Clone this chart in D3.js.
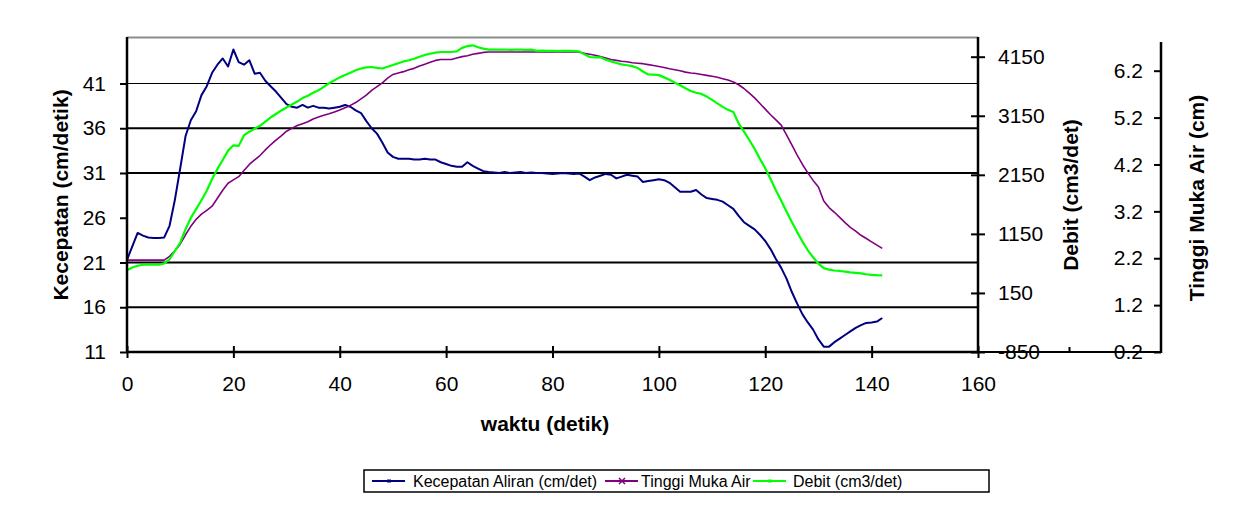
<!DOCTYPE html>
<html>
<head>
<meta charset="utf-8">
<script src="https://cdn.jsdelivr.net/npm/d3@7"></script>
<style>
    body { margin: 0; background: #fff; }
    svg text { font-family: "Liberation Sans", Arial, sans-serif; fill: #000; }
</style>
</head>
<body>
<div id="chart"></div>
<script>
"use strict";

// waktu (detik)
const waktu = [
    0,1,2,3,4,5,6,7,8,9,10,11,12,13,14,15,16,17,18,19,
    20,21,22,23,24,25,26,27,28,29,30,31,32,33,34,35,36,37,38,39,
    40,41,42,43,44,45,46,47,48,49,50,51,52,53,54,55,56,57,58,59,
    60,61,62,63,64,65,66,67,68,69,70,71,72,73,74,75,76,77,78,79,
    80,81,82,83,84,85,86,87,88,89,90,91,92,93,94,95,96,97,98,99,
    100,101,102,103,104,105,106,107,108,109,110,111,112,113,114,115,116,117,118,119,
    120,121,122,123,124,125,126,127,128,129,130,131,132,133,134,135,136,137,138,139,
    140,141,142
];

// Kecepatan Aliran (cm/det) - left axis
const kecepatan = [
    21.3,22.8,24.3,24.0,23.8,23.75,23.75,23.8,25.1,28.0,
    31.5,35.1,36.9,37.9,39.7,40.7,42.2,43.1,43.8,42.9,
    44.8,43.4,43.1,43.6,42.1,42.2,41.3,40.7,40.1,39.4,
    38.7,38.4,38.3,38.6,38.3,38.5,38.3,38.3,38.2,38.3,
    38.4,38.6,38.4,38.0,37.7,36.8,36.0,35.4,34.4,33.3,
    32.8,32.6,32.6,32.6,32.5,32.5,32.6,32.5,32.5,32.2,
    32.0,31.8,31.7,31.7,32.2,31.8,31.5,31.2,31.1,31.05,
    31.0,31.1,31.0,31.05,31.1,31.0,31.05,31.0,31.0,30.95,
    30.9,30.95,31.0,30.95,30.9,30.95,30.6,30.2,30.5,30.7,
    30.9,30.8,30.4,30.6,30.8,30.7,30.6,30.0,30.1,30.2,
    30.3,30.2,29.9,29.4,28.9,28.9,28.9,29.1,28.6,28.2,
    28.1,28.0,27.8,27.4,27.0,26.2,25.5,25.1,24.7,24.1,
    23.4,22.5,21.4,20.4,19.2,17.7,16.4,15.2,14.3,13.5,
    12.4,11.6,11.6,12.1,12.5,12.9,13.3,13.7,14.0,14.25,
    14.3,14.4,14.8
];

// Tinggi Muka Air (cm) - far right axis
const tinggi = [
    2.16,2.16,2.16,2.16,2.16,2.16,2.16,2.16,2.24,2.36,
    2.50,2.70,2.88,3.03,3.14,3.22,3.31,3.48,3.65,3.80,
    3.87,3.94,4.07,4.20,4.30,4.39,4.51,4.62,4.72,4.81,
    4.91,4.97,5.03,5.07,5.11,5.17,5.21,5.25,5.28,5.32,
    5.36,5.41,5.46,5.52,5.60,5.68,5.78,5.86,5.94,6.04,
    6.12,6.15,6.18,6.22,6.25,6.30,6.34,6.38,6.42,6.44,
    6.44,6.44,6.47,6.50,6.52,6.55,6.57,6.59,6.60,6.60,
    6.60,6.60,6.60,6.60,6.60,6.60,6.60,6.60,6.60,6.60,
    6.60,6.60,6.60,6.60,6.60,6.60,6.57,6.55,6.53,6.50,
    6.47,6.44,6.42,6.40,6.39,6.37,6.36,6.35,6.33,6.31,
    6.29,6.27,6.24,6.22,6.20,6.17,6.15,6.14,6.12,6.10,
    6.08,6.06,6.03,6.00,5.96,5.90,5.82,5.72,5.62,5.50,
    5.38,5.26,5.15,5.04,4.83,4.62,4.40,4.20,4.02,3.86,
    3.72,3.42,3.28,3.18,3.07,2.96,2.86,2.78,2.69,2.62,
    2.55,2.48,2.41
];

// Debit (cm3/det) - inner right axis
const debit = [
    533,580,610,628,628,628,628,650,720,860,
    1000,1230,1420,1570,1720,1880,2080,2250,2400,2560,
    2650,2640,2820,2880,2930,2980,3050,3120,3180,3240,
    3290,3340,3390,3450,3490,3540,3580,3640,3700,3750,
    3800,3840,3880,3920,3950,3970,3976,3960,3950,3980,
    4010,4040,4070,4090,4115,4150,4180,4200,4220,4230,
    4230,4230,4240,4300,4330,4343,4310,4286,4270,4269,
    4269,4272,4266,4269,4270,4266,4269,4250,4252,4248,
    4250,4246,4250,4248,4246,4240,4190,4145,4140,4140,
    4100,4070,4043,4020,4005,3990,3960,3900,3850,3845,
    3838,3800,3760,3710,3666,3615,3569,3540,3520,3475,
    3420,3360,3300,3250,3213,3020,2880,2740,2590,2420,
    2260,2080,1890,1710,1530,1350,1180,1020,872,755,
    645,570,545,530,522,510,498,490,480,466,
    455,450,449
];

const xTicks = [0, 20, 40, 60, 80, 100, 120, 140, 160];
const kecTicks = [11, 16, 21, 26, 31, 36, 41];
const gridValues = [16, 21, 31, 36, 41];
const debitTicks = [-850, 150, 1150, 2150, 3150, 4150];
const tinggiTicks = [0.2, 1.2, 2.2, 3.2, 4.2, 5.2, 6.2];

const seriesNames = ["Kecepatan Aliran (cm/det)", "Tinggi Muka Air", "Debit (cm3/det)"];

const W = 1243, H = 526;
const plotLeft = 127, plotRight = 978, plotTop = 37, plotBottom = 352;
const tinggiX = 1161;

const svg = d3.select("#chart").append("svg")
    .attr("width", W)
    .attr("height", H);

// scales
const x = d3.scaleLinear().domain([0, 160]).range([plotLeft, plotRight]);
const yKec = d3.scaleLinear().domain([11, 41]).range([plotBottom, 83.5]);
const yDeb = d3.scaleLinear().domain([-850, 4150]).range([plotBottom, 56.7]);
const yTin = d3.scaleLinear().domain([0.2, 6.2]).range([plotBottom, 70.7]);

// top border of the plot area
svg.append("line")
    .attr("x1", plotLeft).attr("x2", plotRight)
    .attr("y1", plotTop + 0.5).attr("y2", plotTop + 0.5)
    .style("stroke", "#8c8c8c").style("stroke-width", 2);

// gridlines
svg.append("g").selectAll("line")
    .data(gridValues)
    .enter().append("line")
    .attr("x1", plotLeft).attr("x2", plotRight)
    .attr("y1", d => yKec(d)).attr("y2", d => yKec(d))
    .style("stroke", "#000")
    .style("stroke-width", d => d == 41 ? 1.2 : 2);

// lines
const series = [
    { name: seriesNames[0], values: kecepatan, y: yKec, color: "#000080", width: 2 },
    { name: seriesNames[1], values: tinggi, y: yTin, color: "#800080", width: 1.6 },
    { name: seriesNames[2], values: debit, y: yDeb, color: "#00ff00", width: 2.2 }
];

const plotG = svg.append("g");
series.forEach(s => {
    const line = d3.line()
        .x((d, i) => x(waktu[i]))
        .y(d => s.y(d));
    plotG.append("path")
        .datum(s.values)
        .attr("d", line)
        .style("fill", "none")
        .style("stroke", s.color)
        .style("stroke-width", s.width)
        .style("stroke-linejoin", "round");
});

function styleAxis(g) {
    g.select(".domain").remove();
    g.selectAll(".tick line").style("stroke", "#000").style("stroke-width", 2);
    g.selectAll(".tick text")
        .style("font-size", "21px")
        .style("fill", "#000");
}

// left axis
const axisL = svg.append("g")
    .attr("transform", "translate(" + plotLeft + ",0)")
    .call(d3.axisLeft(yKec).tickValues(kecTicks).tickSize(7).tickPadding(14))
    .call(styleAxis);
axisL.append("line")
    .attr("x1", 0).attr("x2", 0).attr("y1", plotTop).attr("y2", plotBottom + 1)
    .style("stroke", "#000").style("stroke-width", 2.5);

// bottom axis
const axisB = svg.append("g")
    .attr("transform", "translate(0," + plotBottom + ")")
    .call(d3.axisBottom(x).tickValues(xTicks).tickSize(6).tickPadding(18))
    .call(styleAxis);
axisB.selectAll(".tick line").attr("y1", -6);
axisB.append("line")
    .attr("x1", plotLeft).attr("x2", plotRight).attr("y1", 0).attr("y2", 0)
    .style("stroke", "#000").style("stroke-width", 2.5);

// debit axis
const axisD = svg.append("g")
    .attr("transform", "translate(" + plotRight + ",0)")
    .call(d3.axisRight(yDeb).tickValues(debitTicks).tickSize(7).tickPadding(13)
        .tickFormat(d => String(d)))
    .call(styleAxis);
axisD.selectAll(".tick line").attr("x1", -7);
axisD.append("line")
    .attr("x1", 0).attr("x2", 0).attr("y1", plotTop).attr("y2", plotBottom + 1)
    .style("stroke", "#000").style("stroke-width", 2.5);

// horizontal base between debit and tinggi axes
svg.append("line")
    .attr("x1", plotRight).attr("x2", tinggiX).attr("y1", plotBottom).attr("y2", plotBottom)
    .style("stroke", "#000").style("stroke-width", 2);
svg.append("line")
    .attr("x1", (plotRight + tinggiX) / 2).attr("x2", (plotRight + tinggiX) / 2)
    .attr("y1", plotBottom - 5).attr("y2", plotBottom)
    .style("stroke", "#000").style("stroke-width", 2);

// tinggi axis
const axisT = svg.append("g")
    .attr("transform", "translate(" + tinggiX + ",0)")
    .call(d3.axisLeft(yTin).tickValues(tinggiTicks).tickSize(7).tickPadding(11)
        .tickFormat(d3.format(".1f")))
    .call(styleAxis);
axisT.append("line")
    .attr("x1", 0).attr("x2", 0).attr("y1", 42).attr("y2", plotBottom + 1)
    .style("stroke", "#000").style("stroke-width", 2.5);

// axis titles
function title(text, tx, ty, rotate) {
    svg.append("text")
        .attr("transform", "translate(" + tx + "," + ty + ")" + (rotate ? " rotate(-90)" : ""))
        .attr("text-anchor", "middle")
        .attr("dominant-baseline", "central")
        .style("font-size", "21px")
        .style("font-weight", "bold")
        .text(text);
}
title("Kecepatan (cm/detik)", 60, 195, true);
title("Debit (cm3/det)", 1070, 195, true);
title("Tinggi Muka Air (cm)", 1196, 198, true);
title("waktu (detik)", 545, 423, false);

// legend
const legend = svg.append("g").attr("transform", "translate(364,470)");
legend.append("rect")
    .attr("width", 625).attr("height", 22)
    .style("fill", "#fff").style("stroke", "#000").style("stroke-width", 1.5);

const legendX = [8, 241, 389];
const legendTextX = [49, 277, 429];
series.forEach((s, i) => {
    const g = legend.append("g").attr("transform", "translate(" + legendX[i] + ",11)");
    g.append("line")
        .attr("x1", 0).attr("x2", 33).attr("y1", 0).attr("y2", 0)
        .style("stroke", s.color).style("stroke-width", 2);
    if (i == 1) {
        g.append("path").attr("d", "M14,-3L20,3M14,3L20,-3")
            .style("stroke", s.color).style("stroke-width", 1.5);
    } else {
        g.append("path").attr("d", "M15,-1.5L19,-1.5L19,1.5L15,1.5Z")
            .style("fill", s.color);
    }
    legend.append("text")
        .attr("x", legendTextX[i]).attr("y", 17)
        .style("font-size", "16px")
        .text(s.name);
});
</script>
</body>
</html>
